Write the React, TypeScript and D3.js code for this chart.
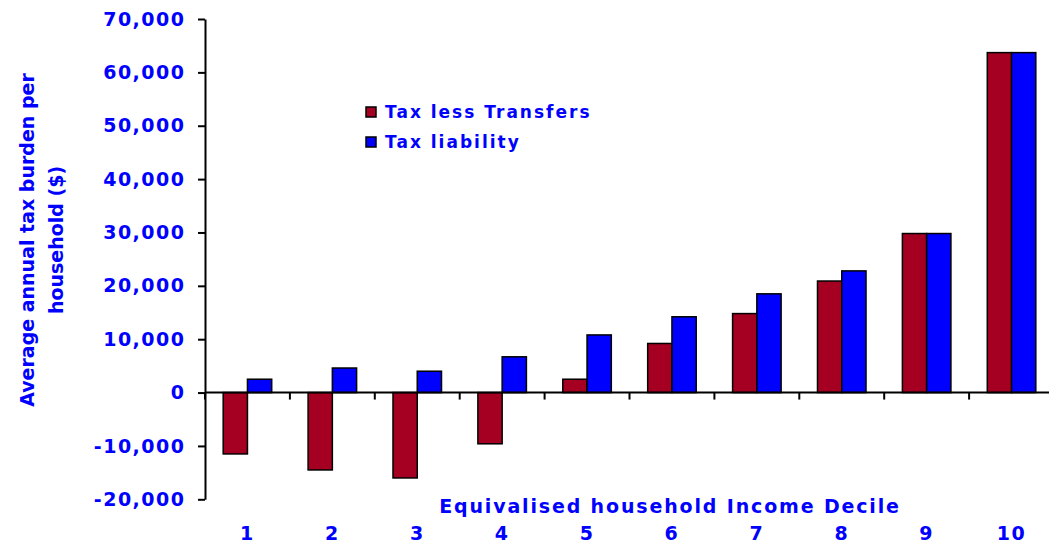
import React, { useEffect, useRef } from 'react'
import * as d3 from 'd3'

const deciles = ['1', '2', '3', '4', '5', '6', '7', '8', '9', '10']
const taxLessTransfers = [-11500, -14500, -16000, -9600, 2500, 9200, 14800, 20900, 29800, 63700]
const taxLiability = [2500, 4600, 4000, 6700, 10800, 14200, 18500, 22800, 29800, 63700]
const yTicks = [-20000, -10000, 0, 10000, 20000, 30000, 40000, 50000, 60000, 70000]
const seriesNames = ['Tax less Transfers', 'Tax liability']
const seriesColors = ['#a50021', '#0000ff']

const FONT = '"DejaVu Sans", Verdana, sans-serif'
const BLUE = '#0000ff'

export default function App() {
  const svgRef = useRef<SVGSVGElement>(null)

  useEffect(() => {
    const width = 1049, height = 546
    const svg = d3.select(svgRef.current)
      .attr('width', width)
      .attr('height', height)
    svg.selectAll('*').remove()

    const left = 205, right = 1054, top = 19, bottom = 499.3

    const x = d3.scaleBand<string>()
      .domain(deciles)
      .range([left, right])
      .paddingInner(3 / 7)
      .paddingOuter(3 / 14)
    const sub = d3.scaleBand<number>()
      .domain([0, 1])
      .range([0, x.bandwidth()])
    const y = d3.scaleLinear()
      .domain([-20000, 70000])
      .range([bottom, top])

    const fmt = (d: number) => d3.format(',')(d).replace('\u2212', '-')

    // bars
    const rows = deciles.map((d, i) => ({ d, vals: [taxLessTransfers[i], taxLiability[i]] }))
    const groups = svg.append('g')
      .selectAll('g')
      .data(rows)
      .join('g')
        .attr('transform', r => `translate(${x(r.d)},0)`)
    groups.selectAll('rect')
      .data(r => r.vals.map((v, k) => ({ v, k })))
      .join('rect')
        .attr('x', b => sub(b.k)!)
        .attr('width', sub.bandwidth())
        .attr('y', b => y(Math.max(0, b.v)))
        .attr('height', b => Math.abs(y(b.v) - y(0)))
        .attr('fill', b => seriesColors[b.k])
        .attr('stroke', '#000')
        .attr('stroke-width', 1.5)

    // y axis
    const yAxis = svg.append('g')
      .attr('transform', `translate(${left},0)`)
      .call(d3.axisLeft(y).tickValues(yTicks).tickSize(7).tickSizeOuter(0).tickPadding(12.5).tickFormat(d => fmt(+d)))
    yAxis.selectAll('path,line').attr('stroke', '#000').attr('stroke-width', 2)
    yAxis.selectAll('text')
      .attr('fill', BLUE)
      .attr('font-family', FONT)
      .attr('font-weight', 'bold')
      .attr('font-size', 19)
      .attr('letter-spacing', 1.5)

    // zero line + band boundary ticks
    svg.append('line')
      .attr('x1', left).attr('x2', width)
      .attr('y1', y(0)).attr('y2', y(0))
      .attr('stroke', '#000').attr('stroke-width', 2)
    svg.append('g')
      .selectAll('line')
      .data(deciles)
      .join('line')
        .attr('x1', d => x(d)! - x.step() * x.paddingInner() / 2)
        .attr('x2', d => x(d)! - x.step() * x.paddingInner() / 2)
        .attr('y1', y(0))
        .attr('y2', y(0) + 7)
        .attr('stroke', '#000').attr('stroke-width', 2)

    // category labels
    svg.append('g')
      .selectAll('text')
      .data(deciles)
      .join('text')
        .attr('x', d => x(d)! + x.bandwidth() / 2)
        .attr('y', 540)
        .attr('text-anchor', 'middle')
        .attr('fill', BLUE)
        .attr('font-family', FONT)
        .attr('font-weight', 'bold')
        .attr('font-size', 19)
        .attr('letter-spacing', 1.5)
        .text(d => d)

    // axis titles
    svg.append('text')
      .attr('x', 670)
      .attr('y', 513)
      .attr('text-anchor', 'middle')
      .attr('fill', BLUE)
      .attr('font-family', FONT)
      .attr('font-weight', 'bold')
      .attr('font-size', 19)
      .attr('letter-spacing', 1.85)
      .text('Equivalised household Income Decile')

    const yt = svg.append('text')
      .attr('transform', 'translate(0,240) rotate(-90)')
      .attr('text-anchor', 'middle')
      .attr('fill', BLUE)
      .attr('font-family', FONT)
      .attr('font-weight', 'bold')
      .attr('font-size', 19)
    yt.append('tspan').attr('x', 0).attr('y', 34).text('Average annual tax burden per')
    yt.append('tspan').attr('x', 0).attr('y', 63).text('household ($)')

    // legend
    const legend = svg.append('g')
      .selectAll('g')
      .data(seriesNames)
      .join('g')
        .attr('transform', (d, i) => `translate(366,${107 + i * 30})`)
    legend.append('rect')
      .attr('width', 10).attr('height', 10)
      .attr('fill', (d, i) => seriesColors[i])
      .attr('stroke', '#000').attr('stroke-width', 1.5)
    legend.append('text')
      .attr('x', 19)
      .attr('y', 10.5)
      .attr('fill', BLUE)
      .attr('font-family', FONT)
      .attr('font-weight', 'bold')
      .attr('font-size', 17)
      .attr('letter-spacing', 2)
      .text(d => d)
  }, [])

  return (
    <svg ref={svgRef} style={{ position: 'absolute', left: 0, top: 0, background: '#fff' }}></svg>
  )
}
